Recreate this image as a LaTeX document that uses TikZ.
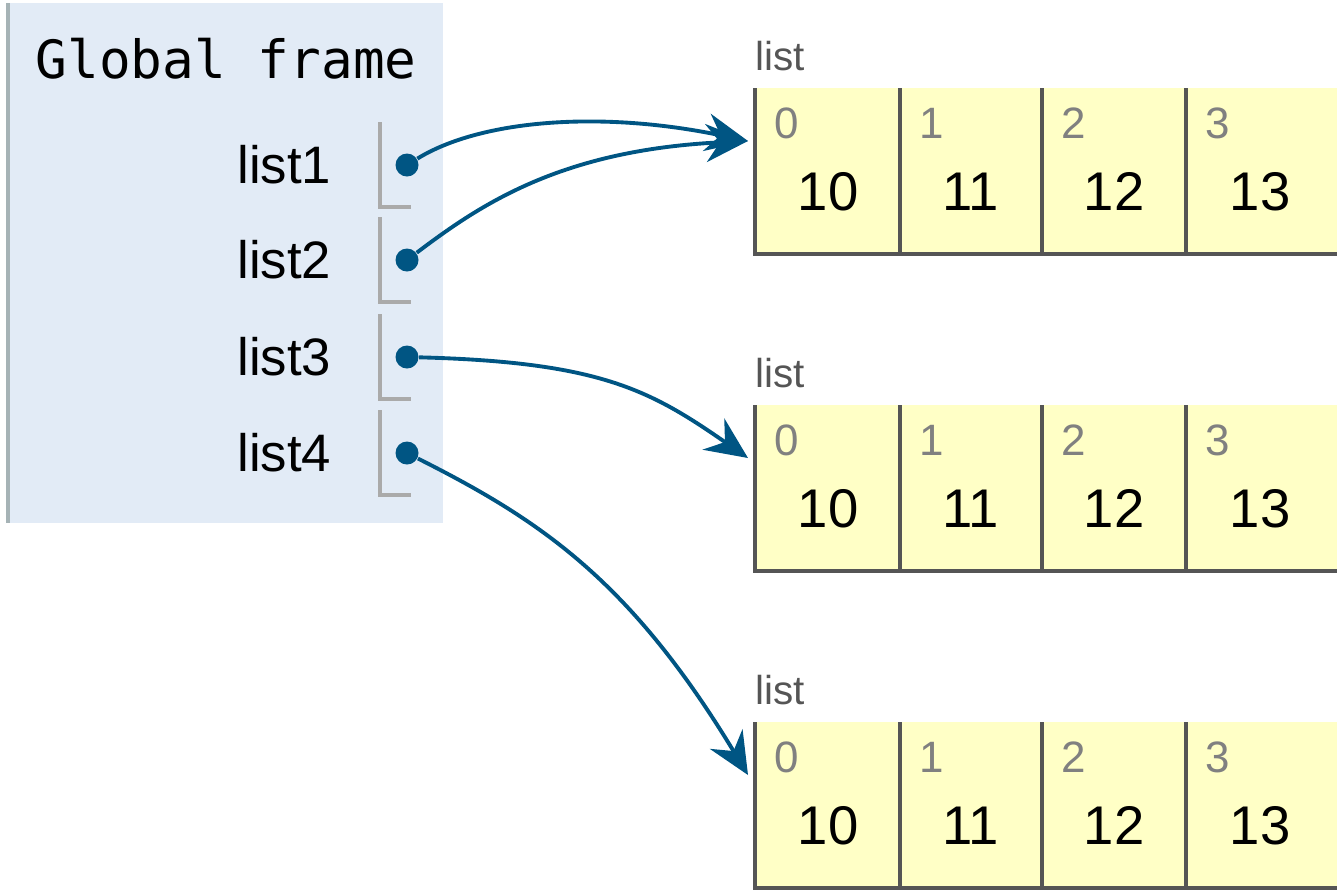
\documentclass[tikz,border=0pt]{standalone}
\usepackage{fontspec}
\setmainfont{Liberation Sans}
\setmonofont{DejaVu Sans Mono}
\usetikzlibrary{arrows.meta}

\definecolor{framebg}{HTML}{E2EBF6}
\definecolor{framerule}{HTML}{A6B3B6}
\definecolor{cellbg}{HTML}{FFFFC6}
\definecolor{cellrule}{HTML}{555555}
\definecolor{ptrblue}{HTML}{005583}
\definecolor{bracketgray}{HTML}{AAAAAA}

\tikzset{
  varname/.style={anchor=east, inner sep=0pt, font=\fontsize{15}{18}\selectfont},
  ptrdot/.style={circle, fill=ptrblue, inner sep=0pt, minimum size=0.23cm},
  ptrarrow/.style={draw=ptrblue, line width=1.1pt,
    -{Stealth[length=0.42cm, width=0.38cm, inset=0.14cm]}},
  typelabel/.style={anchor=base west, inner sep=0pt, text=cellrule, font=\fontsize{11.5}{14}\selectfont},
  idxlabel/.style={anchor=base west, inner sep=0pt, text=black!50, font=\fontsize{12.5}{15}\selectfont},
  cellval/.style={anchor=base, inner sep=0pt, font=\fontsize{15.5}{18}\selectfont}
}

\begin{document}
\begin{tikzpicture}
  \useasboundingbox (0,0) rectangle (13.37,-8.91);

  % Global frame
  \fill[framebg] (0.07,-0.03) rectangle (4.43,-5.23);
  \draw[framerule, line width=0.9pt] (0.08,-0.03) -- (0.08,-5.23);
  \node[anchor=base west, inner sep=0pt, font=\ttfamily\fontsize{15}{18}\selectfont]
    (gf) at (0.35,-0.78) {Global frame};

  % Variables with their pointer slots
  \foreach \i/\y in {1/1.65, 2/2.60, 3/3.57, 4/4.53} {
    \node[varname] (v\i) at (3.32,-\y) {list\i};
    \draw[bracketgray, line width=0.9pt] (3.80,-\y+0.43) -- (3.80,-\y-0.42) -- (4.11,-\y-0.42);
    \node[ptrdot] (p\i) at (4.07,-\y) {};
  }

  % List objects on the heap
  \foreach \k/\t in {1/0.88, 2/4.05, 3/7.22} {
    \node[typelabel] (lt\k) at (7.55,-\t+0.18) {list};
    \fill[cellbg] (7.55,-\t) rectangle (13.37,-\t-1.66);
    \draw[cellrule, line width=0.9pt] (7.55,-\t) -- (7.55,-\t-1.66) -- (13.37,-\t-1.66);
    \foreach \j/\xl/\xm/\v in {0/7.55/8.28/10, 1/9.00/9.71/11, 2/10.42/11.14/12, 3/11.86/12.60/13} {
      \ifnum\j>0 \draw[cellrule, line width=0.9pt] (\xl,-\t) -- (\xl,-\t-1.66); \fi
      \node[idxlabel] (i\k\j) at (\xl+0.19,-\t-0.50) {\j};
      \node[cellval] (c\k\j) at (\xm,-\t-1.22) {\v};
    }
    \coordinate (h\k) at (7.48,-\t-0.53);
  }

  % Pointers
  \draw[ptrarrow] (p1) .. controls (4.80,-1.20) and (6.00,-1.10) .. (h1);
  \draw[ptrarrow] (p2) .. controls (4.80,-2.05) and (5.60,-1.50) .. (h1);
  \draw[ptrarrow] (p3) .. controls (6.00,-3.62) and (6.50,-3.90) .. (h2);
  \draw[ptrarrow] (p4) .. controls (5.40,-5.20) and (6.30,-5.80) .. (h3);
\end{tikzpicture}
\end{document}
